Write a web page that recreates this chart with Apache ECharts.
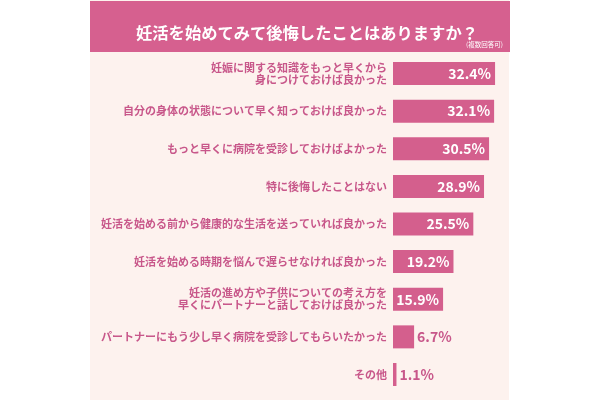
<!DOCTYPE html>
<html><head><meta charset="utf-8">
<script src="https://cdn.jsdelivr.net/npm/echarts@6/dist/echarts.min.js"></script>
<style>html,body{margin:0;padding:0;background:#fff}#c{width:600px;height:400px}</style>
</head><body><div id="c"></div>
<script>
const titleText = '妊活を始めてみて後悔したことはありますか？';
const subText = '(複数回答可)';
const categories = [
  '妊娠に関する知識をもっと早くから\n身につけておけば良かった',
  '自分の身体の状態について早く知っておけば良かった',
  'もっと早くに病院を受診しておけばよかった',
  '特に後悔したことはない',
  '妊活を始める前から健康的な生活を送っていれば良かった',
  '妊活を始める時期を悩んで遅らせなければ良かった',
  '妊活の進め方や子供についての考え方を\n早くにパートナーと話しておけば良かった',
  'パートナーにもう少し早く病院を受診してもらいたかった',
  'その他'
];
const values = [32.4, 32.1, 30.5, 28.9, 25.5, 19.2, 15.9, 6.7, 1.1];

const pink = '#d45f8d';
const textPink = '#c8578a';
const font = '"Noto Sans CJK JP", "Noto Sans", sans-serif';

const chart = echarts.init(document.getElementById('c'));
chart.setOption({
  backgroundColor: '#ffffff',
  animation: false,
  graphic: [
    { type: 'rect', z: -10, shape: { x: 90, y: 0, width: 419, height: 400 }, style: { fill: '#fdf2ee' } },
    { type: 'rect', z: -9, shape: { x: 90, y: 1, width: 420, height: 51 }, style: { fill: '#d6608f' } }
  ],
  title: [
    { text: titleText, left: 302, top: 18, textAlign: 'center',
      textStyle: { color: '#ffffff', fontSize: 16.3, fontWeight: 'bold', fontFamily: font, lineHeight: 20 } },
    { text: subText, left: 503, top: 41, padding: 0, textAlign: 'right',
      textStyle: { color: '#ffffff', fontSize: 6.5, fontWeight: 'normal', fontFamily: font, lineHeight: 8 } }
  ],
  grid: { left: 393, right: 81, top: 54.7, bottom: 6.7, containLabel: false },
  xAxis: { type: 'value', min: 0, max: 40, show: false },
  yAxis: {
    type: 'category', data: categories, inverse: true,
    axisLine: { show: false }, axisTick: { show: false }, splitLine: { show: false },
    axisLabel: { color: textPink, fontSize: 11, fontWeight: 'bold', fontFamily: font, margin: 6, lineHeight: 12, align: 'right' }
  },
  series: [{
    type: 'bar', barWidth: 23,
    data: values.map(v => ({
      value: v,
      label: v >= 10
        ? { show: true, position: 'insideRight', distance: 4, color: '#ffffff' }
        : { show: true, position: 'right', distance: 3, color: textPink }
    })),
    itemStyle: { color: pink },
    label: { fontSize: 14, fontWeight: 'bold', fontFamily: font, formatter: p => p.value.toFixed(1) + '%' }
  }]
});
</script></body></html>
